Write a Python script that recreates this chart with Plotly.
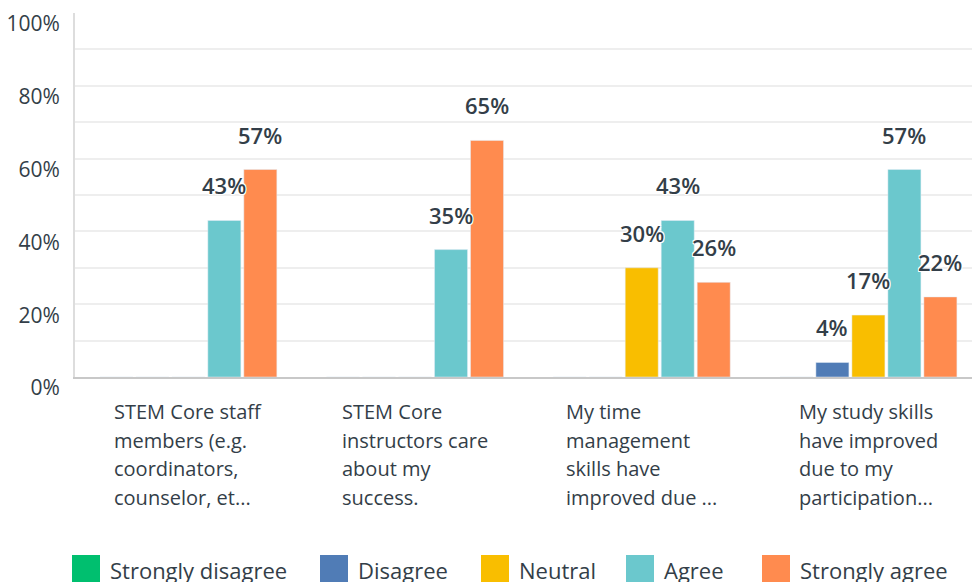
import plotly.graph_objects as go

# dados
questions = [
    "STEM Core staff<br>members (e.g.<br>coordinators,<br>counselor, et...",
    "STEM Core<br>instructors care<br>about my<br>success.",
    "My time<br>management<br>skills have<br>improved due ...",
    "My study skills<br>have improved<br>due to my<br>participation...",
]
series = ["Strongly disagree", "Disagree", "Neutral", "Agree", "Strongly agree"]
colors = ["#00bf6f", "#507cb6", "#f9be00", "#6bc8cd", "#ff8b4f"]
values = [
    [0, 0, 0, 0],     # Strongly disagree
    [0, 0, 0, 4],     # Disagree
    [0, 0, 30, 17],   # Neutral
    [43, 35, 43, 57], # Agree
    [57, 65, 26, 22], # Strongly agree
]
y_ticks = [0, 20, 40, 60, 80, 100]

W, H = 972, 582
L, R, T, B = 75, 0, 13, 205
pw, ph = W - L - R, H - T - B

def px_x(X):
    return (X - L) / pw

def px_y(Y):
    return (H - B - Y) / ph

text_color = "#333e48"
font = "Open Sans"

x_idx = list(range(len(questions)))
fig = go.Figure()
for name, col, vals in zip(series, colors, values):
    fig.add_trace(go.Bar(x=x_idx, y=vals, name=name, marker_color=col,
                         showlegend=False, hoverinfo="skip"))

# rótulos de dados acima das barras
cat_px = pw / 3.957
slot = cat_px * (1 - 0.206) / len(series)
for i, vals in enumerate(values):
    for j, v in enumerate(vals):
        if v == 0:
            continue
        fig.add_annotation(x=j, y=v, xref="x", yref="y", text=f"{v}%",
                           showarrow=False, xshift=(i - 2) * slot, yshift=35,
                           font=dict(family=font, size=22, color=text_color, weight=600,
                                     shadow="1px 1px 0 #fff, -1px -1px 0 #fff, 1px -1px 0 #fff, -1px 1px 0 #fff"))

# rótulos das categorias
for j, q in enumerate(questions):
    lines = "<br>".join(f"<span style='font-size:20px'>{s}</span>" for s in q.split("<br>"))
    fig.add_annotation(x=j, y=0, xref="x", yref="paper", yanchor="top", xanchor="center",
                       align="left", yshift=-19, text=lines, showarrow=False,
                       font=dict(family=font, size=22, color=text_color))

# legenda manual
leg_x = [72, 320, 481, 626, 762]
for name, col, lx in zip(series, colors, leg_x):
    fig.add_shape(type="rect", xref="paper", yref="paper",
                  x0=px_x(lx), x1=px_x(lx + 28), y0=px_y(555), y1=px_y(584),
                  fillcolor=col, line_width=0)
    fig.add_annotation(x=px_x(lx + 36), y=px_y(570), xref="paper", yref="paper",
                       xanchor="left", yanchor="middle", text=name, showarrow=False,
                       font=dict(family=font, size=22, color=text_color))

fig.update_layout(
    width=W, height=H,
    margin=dict(l=L, r=R, t=T, b=B),
    paper_bgcolor="white", plot_bgcolor="white",
    barmode="group", bargap=0.206, bargroupgap=0.083,
    showlegend=False,
    font=dict(family=font, color=text_color),
)
fig.update_xaxes(range=[-0.5, 3.457], showticklabels=False, showgrid=False, automargin=False,
                 showline=True, linecolor="#c8c8c8", linewidth=2, zeroline=False)
fig.update_yaxes(range=[0, 100], tickvals=y_ticks, ticktext=[f"{t}%" for t in y_ticks],
                 showgrid=True, gridcolor="#eeeeee", gridwidth=2, automargin=False,
                 minor=dict(dtick=10, showgrid=True, gridcolor="#eeeeee", gridwidth=2),
                 showline=True, linecolor="#dddddd", linewidth=2, zeroline=False,
                 ticklabelshift=11, ticklabelstandoff=9,
                 tickfont=dict(family=font, size=21, color=text_color))

fig.write_html("out.html", config={"displayModeBar": False},
               post_script="document.body.style.margin='0';")
